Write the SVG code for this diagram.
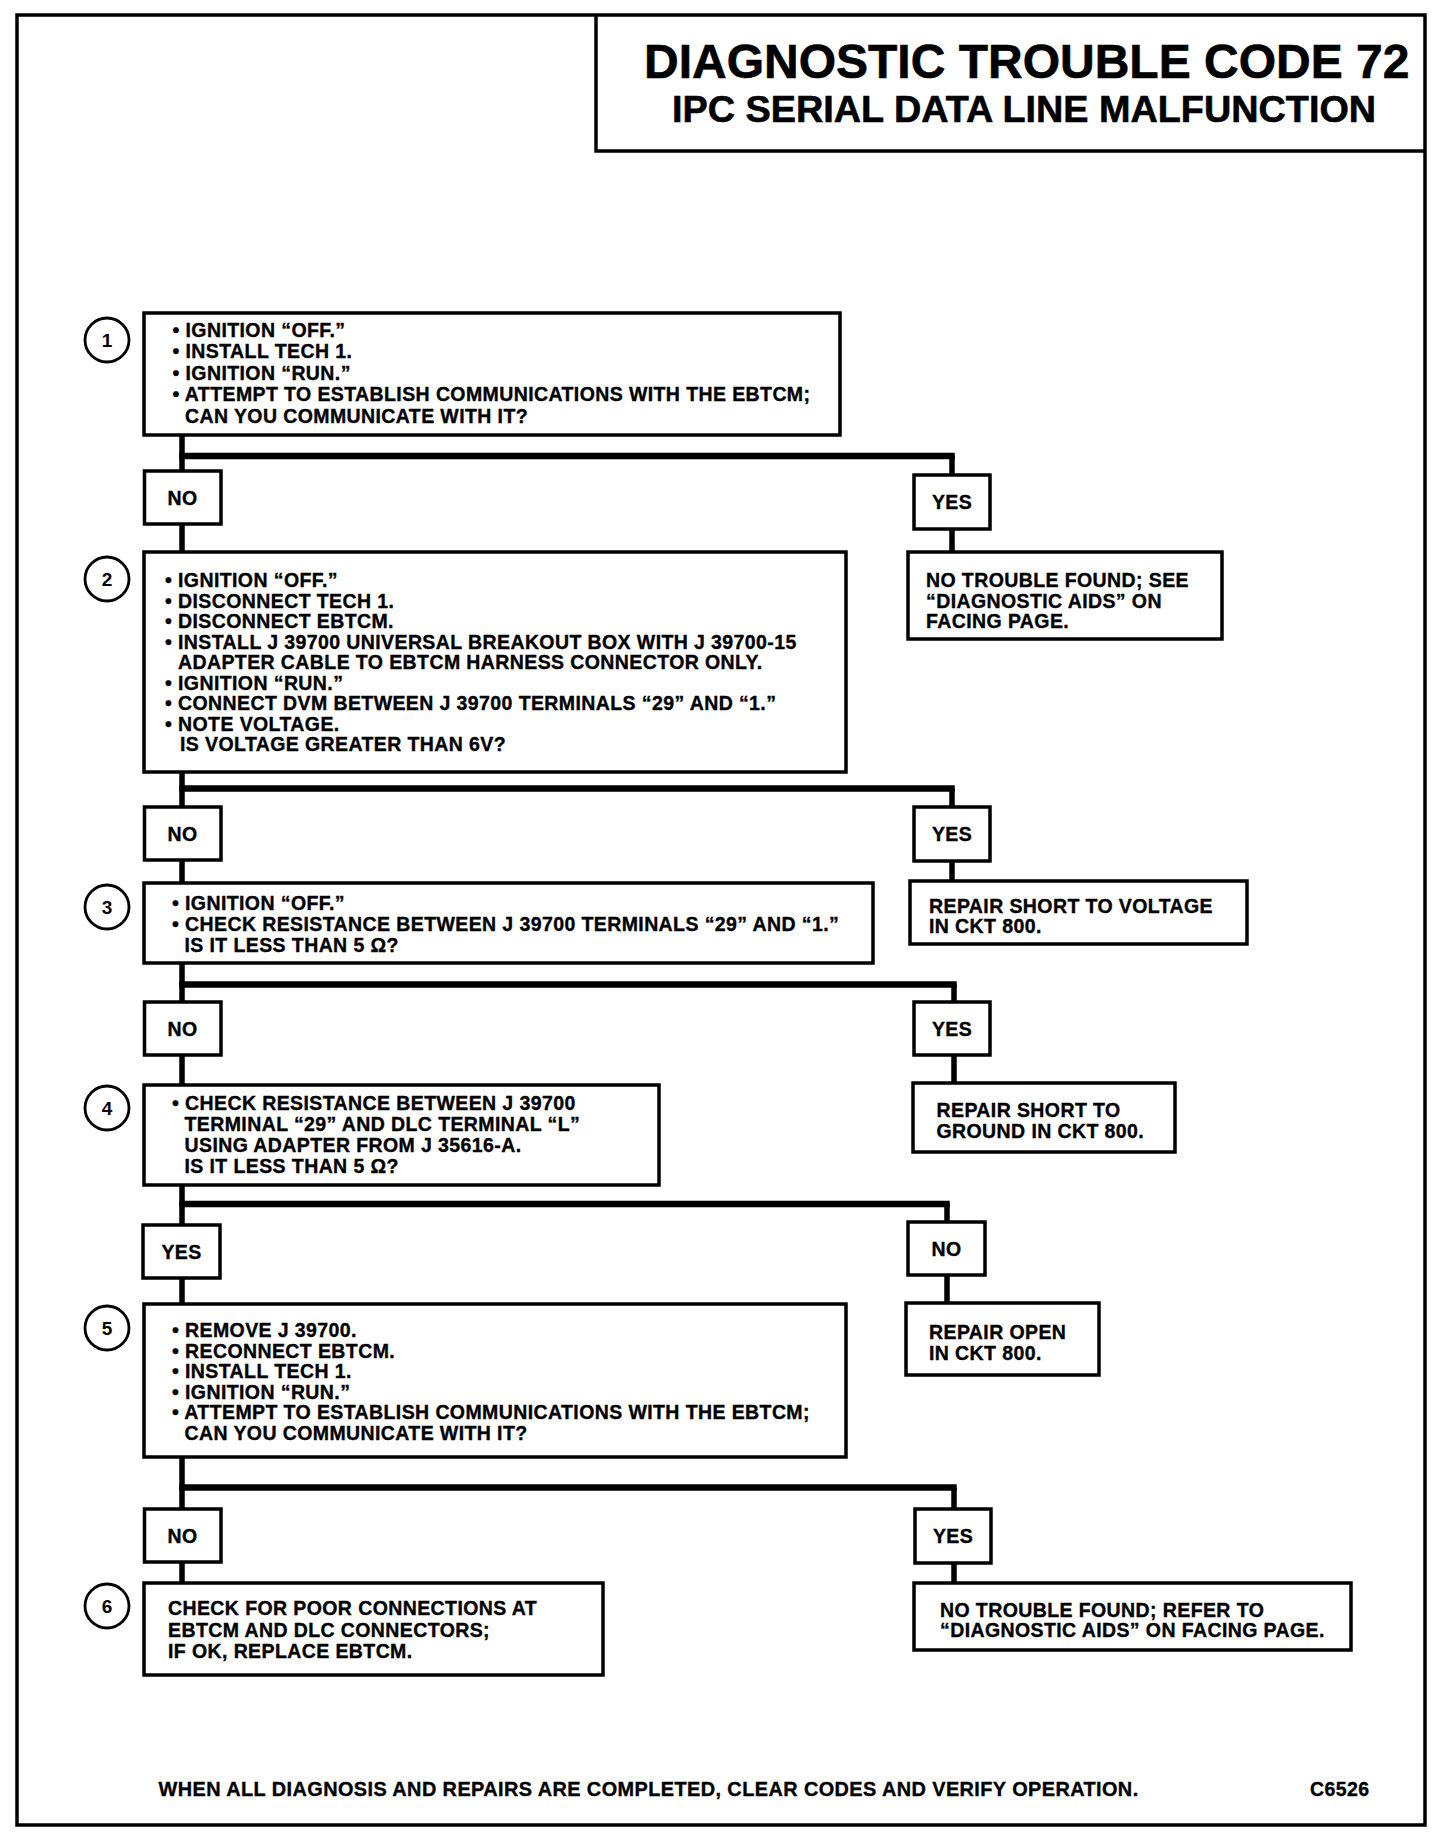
<svg xmlns="http://www.w3.org/2000/svg" width="1456" height="1842" viewBox="0 0 1456 1842">
<style>
.t{font-family:"Liberation Sans",Arial,sans-serif;font-weight:bold;font-size:19.5px;letter-spacing:0.4px;fill:#000;stroke:#000;stroke-width:0.35}
.c{text-anchor:middle}
.box{fill:#fff;stroke:#000;stroke-width:3.5}
.circ{fill:#fff;stroke:#000;stroke-width:2.8}
.num{font-family:"Liberation Sans",Arial,sans-serif;font-weight:bold;font-size:19px;text-anchor:middle;fill:#000}
.v{stroke:#000;stroke-width:5.5;fill:none}
.h{stroke:#000;stroke-width:6.5;fill:none}
.ttl{font-family:"Liberation Sans",Arial,sans-serif;font-weight:bold;fill:#000;stroke:#000;stroke-width:0.6}
</style>
<rect x="0" y="0" width="1456" height="1842" fill="#fff"/>
<g id="frame">
<rect x="17" y="15" width="1408" height="1810" fill="none" stroke="#000" stroke-width="3.5"/>
<path d="M596,15 V151 H1425" fill="none" stroke="#000" stroke-width="3.5"/>
<text class="ttl" x="644" y="78" font-size="48">DIAGNOSTIC TROUBLE CODE 72</text>
<text class="ttl" x="672" y="122" font-size="37.8">IPC SERIAL DATA LINE MALFUNCTION</text>
</g>
<g id="connectors">
<line class="v" x1="182" y1="435" x2="182" y2="1583"/>
<line class="h" x1="179.25" y1="456" x2="954.75" y2="456"/>
<line class="v" x1="952" y1="456" x2="952" y2="552"/>
<line class="h" x1="179.25" y1="788.5" x2="954.75" y2="788.5"/>
<line class="v" x1="952" y1="788.5" x2="952" y2="881"/>
<line class="h" x1="179.25" y1="984.5" x2="956.75" y2="984.5"/>
<line class="v" x1="954" y1="984.5" x2="954" y2="1083"/>
<line class="h" x1="179.25" y1="1204" x2="949.75" y2="1204"/>
<line class="v" x1="947" y1="1204" x2="947" y2="1303"/>
<line class="h" x1="179.25" y1="1487.5" x2="956.75" y2="1487.5"/>
<line class="v" x1="954" y1="1487.5" x2="954" y2="1583"/>
</g>
<g id="step1">
<circle class="circ" cx="107" cy="340" r="22"/><text class="num" x="107" y="347">1</text>
<rect class="box" x="144" y="313" width="696" height="122"/>
<text class="t" x="172.5" y="336.7">• IGNITION “OFF.”</text>
<text class="t" x="172.5" y="358.3">• INSTALL TECH 1.</text>
<text class="t" x="172.5" y="380">• IGNITION “RUN.”</text>
<text class="t" x="172.5" y="401.3">• ATTEMPT TO ESTABLISH COMMUNICATIONS WITH THE EBTCM;</text>
<text class="t" x="185" y="422.5">CAN YOU COMMUNICATE WITH IT?</text>
</g>
<g id="no1"><rect class="box" x="144.5" y="471" width="76.5" height="53"/><text class="t c" x="182.5" y="504.5">NO</text></g>
<g id="yes1"><rect class="box" x="914" y="475" width="76" height="54"/><text class="t c" x="952" y="509">YES</text></g>
<g id="result1">
<rect class="box" x="908" y="552" width="314" height="87"/>
<text class="t" x="926" y="587">NO TROUBLE FOUND; SEE</text>
<text class="t" x="926" y="607.5">“DIAGNOSTIC AIDS” ON</text>
<text class="t" x="926" y="628">FACING PAGE.</text>
</g>
<g id="step2">
<circle class="circ" cx="107" cy="579" r="22"/><text class="num" x="107" y="586">2</text>
<rect class="box" x="144" y="552" width="702" height="220"/>
<text class="t" x="165" y="587">• IGNITION “OFF.”</text>
<text class="t" x="165" y="607.5">• DISCONNECT TECH 1.</text>
<text class="t" x="165" y="628">• DISCONNECT EBTCM.</text>
<text class="t" x="165" y="648.5">• INSTALL J 39700 UNIVERSAL BREAKOUT BOX WITH J 39700-15</text>
<text class="t" x="178" y="669">ADAPTER CABLE TO EBTCM HARNESS CONNECTOR ONLY.</text>
<text class="t" x="165" y="689.5">• IGNITION “RUN.”</text>
<text class="t" x="165" y="710">• CONNECT DVM BETWEEN J 39700 TERMINALS “29” AND “1.”</text>
<text class="t" x="165" y="730.5">• NOTE VOLTAGE.</text>
<text class="t" x="180" y="751">IS VOLTAGE GREATER THAN 6V?</text>
</g>
<g id="no2"><rect class="box" x="144.5" y="807" width="76.5" height="53"/><text class="t c" x="182.5" y="840.5">NO</text></g>
<g id="yes2"><rect class="box" x="914" y="807" width="76" height="54"/><text class="t c" x="952" y="841">YES</text></g>
<g id="result2">
<rect class="box" x="910" y="881" width="337" height="63"/>
<text class="t" x="929" y="912.5">REPAIR SHORT TO VOLTAGE</text>
<text class="t" x="929" y="933">IN CKT 800.</text>
</g>
<g id="step3">
<circle class="circ" cx="107" cy="907" r="22"/><text class="num" x="107" y="914">3</text>
<rect class="box" x="144" y="883" width="729" height="80"/>
<text class="t" x="172" y="910">• IGNITION “OFF.”</text>
<text class="t" x="172" y="931">• CHECK RESISTANCE BETWEEN J 39700 TERMINALS “29” AND “1.”</text>
<text class="t" x="184.5" y="952">IS IT LESS THAN 5 Ω?</text>
</g>
<g id="no3"><rect class="box" x="144.5" y="1002" width="76.5" height="53"/><text class="t c" x="182.5" y="1035.5">NO</text></g>
<g id="yes3"><rect class="box" x="914" y="1002" width="76" height="53"/><text class="t c" x="952" y="1036">YES</text></g>
<g id="result3">
<rect class="box" x="913" y="1083" width="262" height="69"/>
<text class="t" x="936.5" y="1116.7">REPAIR SHORT TO</text>
<text class="t" x="936.5" y="1138">GROUND IN CKT 800.</text>
</g>
<g id="step4">
<circle class="circ" cx="107" cy="1108" r="22"/><text class="num" x="107" y="1115">4</text>
<rect class="box" x="144" y="1085" width="515" height="100"/>
<text class="t" x="172" y="1110">• CHECK RESISTANCE BETWEEN J 39700</text>
<text class="t" x="184.5" y="1131">TERMINAL “29” AND DLC TERMINAL “L”</text>
<text class="t" x="184.5" y="1152">USING ADAPTER FROM J 35616-A.</text>
<text class="t" x="184.5" y="1173">IS IT LESS THAN 5 Ω?</text>
</g>
<g id="yes4"><rect class="box" x="143" y="1225" width="77" height="53"/><text class="t c" x="181.5" y="1258.5">YES</text></g>
<g id="no4"><rect class="box" x="908" y="1222" width="77" height="53"/><text class="t c" x="946.5" y="1255.5">NO</text></g>
<g id="result4">
<rect class="box" x="906" y="1303" width="193" height="72"/>
<text class="t" x="929" y="1339">REPAIR OPEN</text>
<text class="t" x="929" y="1360">IN CKT 800.</text>
</g>
<g id="step5">
<circle class="circ" cx="107" cy="1328" r="22"/><text class="num" x="107" y="1335">5</text>
<rect class="box" x="144" y="1304" width="702" height="153"/>
<text class="t" x="172" y="1337">• REMOVE J 39700.</text>
<text class="t" x="172" y="1357.5">• RECONNECT EBTCM.</text>
<text class="t" x="172" y="1378">• INSTALL TECH 1.</text>
<text class="t" x="172" y="1398.5">• IGNITION “RUN.”</text>
<text class="t" x="172" y="1419">• ATTEMPT TO ESTABLISH COMMUNICATIONS WITH THE EBTCM;</text>
<text class="t" x="184.5" y="1439.5">CAN YOU COMMUNICATE WITH IT?</text>
</g>
<g id="no5"><rect class="box" x="144.5" y="1509" width="76.5" height="53"/><text class="t c" x="182.5" y="1542.5">NO</text></g>
<g id="yes5"><rect class="box" x="915" y="1509" width="76" height="54"/><text class="t c" x="953" y="1543">YES</text></g>
<g id="step6">
<circle class="circ" cx="107" cy="1606" r="22"/><text class="num" x="107" y="1613">6</text>
<rect class="box" x="144" y="1583" width="459" height="92"/>
<text class="t" x="168" y="1615">CHECK FOR POOR CONNECTIONS AT</text>
<text class="t" x="168" y="1636.5">EBTCM AND DLC CONNECTORS;</text>
<text class="t" x="168" y="1658">IF OK, REPLACE EBTCM.</text>
</g>
<g id="result5">
<rect class="box" x="914" y="1583" width="437" height="67"/>
<text class="t" x="940" y="1616.5">NO TROUBLE FOUND; REFER TO</text>
<text class="t" x="940" y="1637">“DIAGNOSTIC AIDS” ON FACING PAGE.</text>
</g>
<g id="footer">
<text class="t" x="158.6" y="1796" textLength="980" lengthAdjust="spacingAndGlyphs">WHEN ALL DIAGNOSIS AND REPAIRS ARE COMPLETED, CLEAR CODES AND VERIFY OPERATION.</text>
<text class="t" x="1310" y="1796">C6526</text>
</g>
</svg>
